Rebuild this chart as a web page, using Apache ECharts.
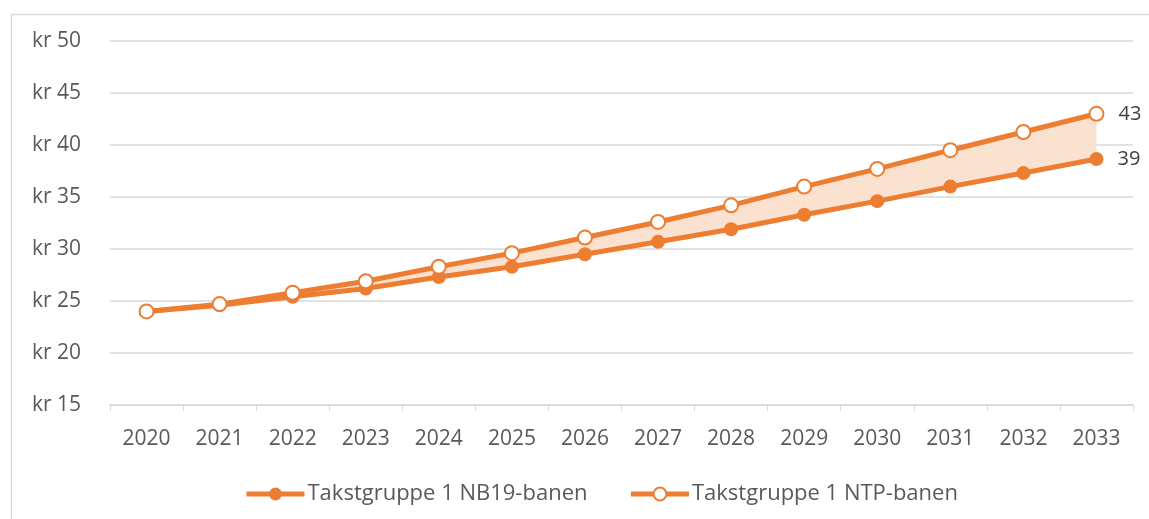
<!DOCTYPE html>
<html>
<head>
<meta charset="utf-8">
<script src="https://cdn.jsdelivr.net/npm/echarts@6/dist/echarts.min.js"></script>
<style>
  html, body { margin: 0; padding: 0; background: #fff; }
  #chart { width: 1149px; height: 519px; }
</style>
</head>
<body>
<div id="chart"></div>
<script>
// data
const years = ["2020", "2021", "2022", "2023", "2024", "2025", "2026", "2027", "2028", "2029", "2030", "2031", "2032", "2033"];
const nb19 = [24.0, 24.6, 25.4, 26.2, 27.3, 28.3, 29.5, 30.7, 31.9, 33.3, 34.6, 36.0, 37.3, 38.65];
const ntp = [24.0, 24.7, 25.8, 26.9, 28.3, 29.6, 31.1, 32.6, 34.2, 36.0, 37.7, 39.5, 41.25, 43.0];
const yTicks = [15, 20, 25, 30, 35, 40, 45, 50];

document.addEventListener("DOMContentLoaded", function () {
  const orange = "#ed7d31";
  const txt = "#595959";
  const font = "'Open Sans', 'Noto Sans', sans-serif";
  // band between the two lines (stacked on NB19)
  const gap = ntp.map((v, i) => +(v - nb19[i]).toFixed(2));
  const last = years.length - 1;

  const chart = echarts.init(document.getElementById("chart"));
  chart.setOption({
    animation: false,
    textStyle: { fontFamily: font },
    graphic: [{
      type: "rect",
      left: 9, top: 12,
      shape: { width: 1300, height: 700 },
      style: { fill: "none", stroke: "#d9d9d9", lineWidth: 1.5 },
      silent: true
    }],
    grid: { left: 110, right: 16, top: 41, bottom: 114 },
    legend: {
      top: 478,
      left: 239,
      data: ["Takstgruppe 1 NB19-banen", "Takstgruppe 1 NTP-banen"],
      itemWidth: 58,
      itemHeight: 16,
      itemGap: 41,
      lineStyle: { width: 5 },
      textStyle: { color: txt, fontSize: 22, fontFamily: font, padding: [0, 0, 0, -2] }
    },
    xAxis: {
      type: "category",
      data: years,
      boundaryGap: true,
      axisLine: { lineStyle: { color: "#d9d9d9", width: 1.5 } },
      axisTick: { show: true, length: 6, lineStyle: { color: "#d9d9d9" } },
      axisLabel: { color: txt, fontSize: 21, margin: 24 },
      splitLine: { show: false }
    },
    yAxis: {
      type: "value",
      min: yTicks[0],
      max: yTicks[yTicks.length - 1],
      interval: 5,
      axisLine: { show: false },
      axisTick: { show: false },
      axisLabel: { color: txt, fontSize: 21, margin: 29, formatter: v => "kr " + v },
      splitLine: { lineStyle: { color: "#d9d9d9", width: 1.5 } }
    },
    series: [
      {
        name: "base",
        type: "line",
        data: nb19,
        stack: "band",
        symbol: "none",
        lineStyle: { opacity: 0 },
        silent: true,
        z: 1
      },
      {
        name: "gap",
        type: "line",
        data: gap,
        stack: "band",
        symbol: "none",
        lineStyle: { opacity: 0 },
        areaStyle: { color: "#fbe2d0", opacity: 1 },
        silent: true,
        z: 1
      },
      {
        name: "Takstgruppe 1 NB19-banen",
        type: "line",
        data: nb19,
        symbol: "circle",
        symbolSize: 14,
        color: orange,
        lineStyle: { color: orange, width: 5 },
        itemStyle: { color: orange, borderColor: orange, borderWidth: 0 },
        label: {
          show: true,
          position: "right",
          distance: 14,
          color: "#404040",
          fontSize: 20,
          formatter: p => p.dataIndex === last ? Math.round(p.value) : ""
        },
        z: 3
      },
      {
        name: "Takstgruppe 1 NTP-banen",
        type: "line",
        data: ntp,
        symbol: "circle",
        symbolSize: 14,
        color: orange,
        lineStyle: { color: orange, width: 5 },
        itemStyle: { color: "#ffffff", borderColor: orange, borderWidth: 2 },
        label: {
          show: true,
          position: "right",
          distance: 14,
          color: "#404040",
          fontSize: 20,
          formatter: p => p.dataIndex === last ? Math.round(p.value) : ""
        },
        z: 4
      }
    ]
  });
});
</script>
</body>
</html>
